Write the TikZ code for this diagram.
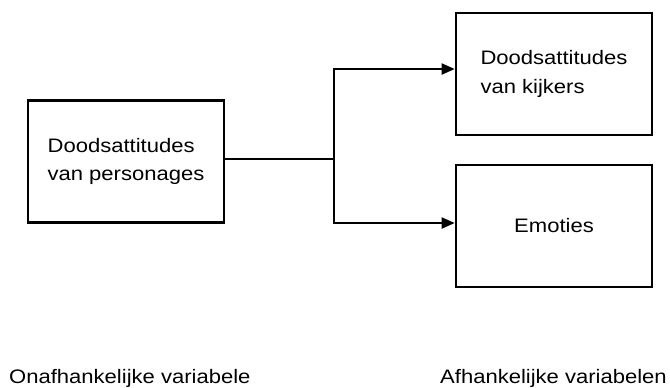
\documentclass[tikz,border=0pt]{standalone}
\usepackage{fontspec}
\setmainfont{Liberation Sans}[FakeStretch=1.13]
\usetikzlibrary{arrows.meta}

\begin{document}
\begin{tikzpicture} [x = 1bp, y = -1bp, font = \fontsize{19.5bp}{28.5bp}\selectfont,
  var/.style = {draw, line width = 2.6bp, rectangle, align = left, minimum width = 196bp, minimum height = 122bp, inner sep = 0pt},
  link/.style = {line width = 1.9bp, >={Triangle[length = 13bp, width = 11bp]}}]
\useasboundingbox (0,0) rectangle (670,387);
\node[var](personages) at (126,161.5){Doodsattitudes\\van personages};
\node[var](kijkers) at (554,74){Doodsattitudes\\van kijkers};
\node[var](emoties) at (554,226){Emoties};
\coordinate (split) at (334,159);
\node[anchor = base west, inner sep = 0pt](onafh) at (9,383){Onafhankelijke variabele};
\node[anchor = base east, inner sep = 0pt](afh) at (667,383){Afhankelijke variabelen};
\draw [link] (personages.east |- split) -- (split);
\draw [link, ->] (split) |- ([yshift = 5bp]kijkers.west);
\draw [link, ->] (split) |- ([yshift = 3bp]emoties.west);
\end{tikzpicture}
\end{document}
